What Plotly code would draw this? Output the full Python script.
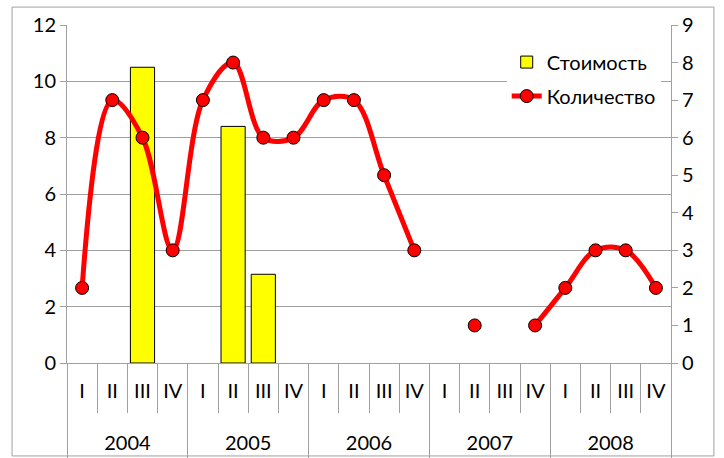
import plotly.graph_objects as go

years = ["2004"] * 4 + ["2005"] * 4 + ["2006"] * 4 + ["2007"] * 4 + ["2008"] * 4
quarters = ["I", "II", "III", "IV"] * 5
cost = [None, None, 10.5, None,
        None, 8.4, 3.15, None,
        None, None, None, None,
        None, None, None, None,
        None, None, None, None]
qty = [2, 7, 6, 3,
       7, 8, 6, 6,
       7, 7, 5, 3,
       None, 1, None, 1,
       2, 3, 3, 2]

# category positions derived from the data
idx = list(range(len(quarters)))
year_names = list(dict.fromkeys(years))
year_centers = [sum(i for i, y in zip(idx, years) if y == yn) / years.count(yn) for yn in year_names]
year_bounds = [-0.5] + [max(i for i, y in zip(idx, years) if y == yn) + 0.5 for yn in year_names]
xrange_ = [-0.5, len(quarters) - 0.5]

FONT = "Lato"
FS = 20
GRID = "#a0a0a0"

fig = go.Figure()
fig.add_trace(go.Bar(
    x=idx, y=cost, name="Стоимость", width=0.8,
    marker=dict(color="#FFFF00", line=dict(color="black", width=1)),
    legendgroup="a",
))
fig.add_trace(go.Scatter(
    x=idx, y=qty, name="Количество", yaxis="y2",
    mode="lines+markers",
    line=dict(color="#FF0000", width=5, shape="spline", smoothing=1),
    marker=dict(color="#FF0000", size=13, line=dict(color="black", width=1)),
    connectgaps=False, legendgroup="b",
))
fig.add_trace(go.Scatter(x=[], y=[], xaxis="x2", showlegend=False, hoverinfo="skip"))

fig.update_layout(
    width=724, height=458,
    margin=dict(l=67, r=53, t=25, b=95),
    paper_bgcolor="white", plot_bgcolor="white",
    font=dict(family=FONT, size=FS, color="black"),
    showlegend=True,
    legend=dict(x=0.728, y=0.948, xanchor="left", yanchor="top",
                bgcolor="white", traceorder="grouped", tracegroupgap=5,
                font=dict(family=FONT, size=FS)),
    xaxis=dict(range=xrange_, showgrid=False, showline=True, zeroline=False,
               linecolor=GRID, linewidth=1, ticks="",
               tickmode="array", tickvals=idx, ticktext=quarters,
               ticklabelstandoff=10, automargin=False,
               minor=dict(tickmode="linear", tick0=-0.5, dtick=1, ticks="outside",
                          ticklen=49, tickcolor=GRID, showgrid=False),
               tickfont=dict(family=FONT, size=FS)),
    xaxis2=dict(range=xrange_, overlaying="x", anchor="y", side="bottom",
                showgrid=False, showline=False, zeroline=False, ticks="",
                tickmode="array", tickvals=year_centers, ticktext=year_names,
                ticklabelstandoff=66, automargin=False,
                minor=dict(tickmode="array", tickvals=year_bounds, ticks="outside",
                           ticklen=95, tickcolor=GRID, showgrid=False),
                tickfont=dict(family=FONT, size=FS)),
    yaxis=dict(range=[0, 12], dtick=2, showgrid=True, gridcolor=GRID,
               showline=True, linecolor=GRID, ticks="outside", ticklen=6,
               tickcolor=GRID, zeroline=False, automargin=False,
               tickfont=dict(family=FONT, size=FS)),
    yaxis2=dict(range=[0, 9], dtick=1, overlaying="y", side="right",
                showgrid=False, showline=True, linecolor=GRID, ticks="outside",
                ticklen=6, tickcolor=GRID, zeroline=False, automargin=False,
                tickfont=dict(family=FONT, size=FS)),
    shapes=[dict(type="rect", xref="paper", yref="paper",
                 x0=-0.091, x1=1.071, y0=-0.275, y1=1.053,
                 line=dict(color=GRID, width=1), fillcolor="rgba(0,0,0,0)",
                 layer="below")],
)

fig.write_html("out.html", config={"displayModeBar": False},
               post_script="document.body.style.margin='0px';document.body.style.overflow='hidden';")
